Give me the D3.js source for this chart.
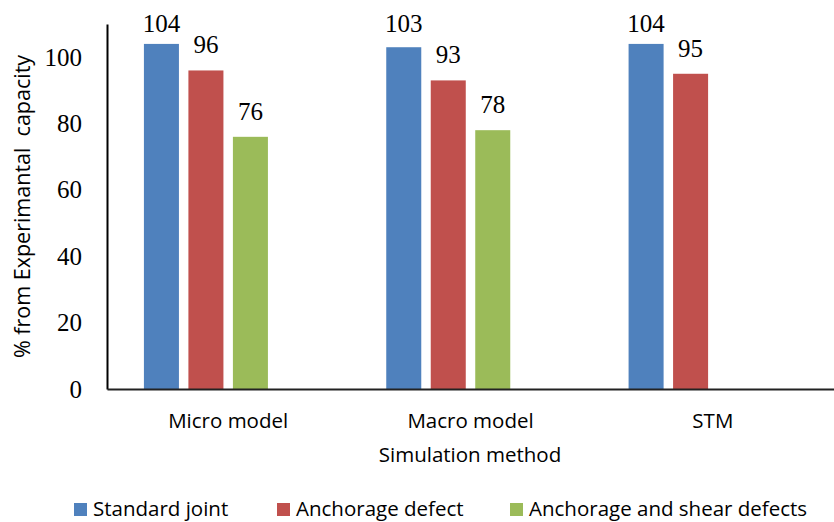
<!DOCTYPE html>
<html>
<head>
<meta charset="utf-8">
<script src="https://cdn.jsdelivr.net/npm/d3@7"></script>
<style>
  html, body { margin: 0; padding: 0; background: #fff; }
  svg { display: block; }
</style>
</head>
<body>
<svg id="chart" width="834" height="522"></svg>
<script>
// Simulation methods on the x axis
const categories = ["Micro model", "Macro model", "STM"];
// Joint conditions (one bar per condition inside each method)
const seriesNames = ["Standard joint", "Anchorage defect", "Anchorage and shear defects"];
const seriesColors = ["#4F81BD", "#C0504D", "#9BBB59"];
// Predicted capacity as % of the experimental capacity (null = not simulated)
const standardJoint = [104, 103, 104];
const anchorageDefect = [96, 93, 95];
const anchorageShear = [76, 78, null];
const yTicks = [0, 20, 40, 60, 80, 100];

const seriesValues = [standardJoint, anchorageDefect, anchorageShear];

const svg = d3.select("#chart");
const W = 834, H = 522;
const margin = { top: 24, right: 0, bottom: 133, left: 107 };
const plotW = W - margin.left - margin.right;
const plotH = H - margin.top - margin.bottom;

const serif = "'Liberation Serif', 'Times New Roman', serif";
const sans = "'Open Sans', 'Noto Sans', sans-serif";
const sansSize = 20.5;
const serifSize = 25;

const x = d3.scaleBand().domain(categories).range([0, plotW]).paddingInner(0).paddingOuter(0);
// four slots per group; the last one is left empty
const groupW = 168.5;
const xs = d3.scaleBand().domain([0, 1, 2, 3]).range([0, groupW]).paddingInner(0.213).paddingOuter(0);
const y = d3.scaleLinear().domain([0, 110]).range([plotH, 0]);

const g = svg.append("g").attr("transform", `translate(${margin.left},${margin.top})`);

// bars
const bars = [];
seriesValues.forEach((vals, si) => {
  vals.forEach((v, ci) => {
    if (v == null) return;
    bars.push({ si, ci, v });
  });
});

const groupStart = c => x(c) + x.bandwidth() / 2 - groupW / 2;

g.selectAll("rect.bar").data(bars).join("rect")
  .attr("class", "bar")
  .attr("x", d => groupStart(categories[d.ci]) + xs(d.si))
  .attr("y", d => y(d.v))
  .attr("width", xs.bandwidth())
  .attr("height", d => plotH - y(d.v))
  .attr("fill", d => seriesColors[d.si]);

// value labels (kept below the top edge of the chart)
g.selectAll("text.val").data(bars).join("text")
  .attr("class", "val")
  .attr("x", d => groupStart(categories[d.ci]) + xs(d.si) + xs.bandwidth() / 2)
  .attr("y", d => Math.max(y(d.v) - 17, 8))
  .attr("text-anchor", "middle")
  .attr("font-family", serif)
  .attr("font-size", serifSize)
  .attr("fill", "#000")
  .text(d => d.v);

// y axis
const yAxis = g.append("g").call(d3.axisLeft(y).tickValues(yTicks).tickSize(0).tickPadding(25));
yAxis.select(".domain").attr("stroke", "#000").attr("stroke-width", 2);
yAxis.selectAll("text").attr("font-family", serif).attr("font-size", serifSize).attr("fill", "#000");

// x axis
const xAxis = g.append("g").attr("transform", `translate(0,${plotH})`)
  .call(d3.axisBottom(x).tickSize(0).tickPadding(24));
xAxis.select(".domain").attr("stroke", "#222").attr("stroke-width", 2);
xAxis.selectAll("text").attr("font-family", sans).attr("font-size", sansSize).attr("fill", "#000");

// axis titles
svg.append("text")
  .attr("transform", `translate(30,${margin.top + plotH / 2}) rotate(-90)`)
  .attr("text-anchor", "middle")
  .attr("font-family", sans).attr("font-size", 21.5).attr("fill", "#000")
  .attr("xml:space", "preserve")
  .text("% from Experimantal  capacity");

svg.append("text")
  .attr("x", 470).attr("y", 462)
  .attr("text-anchor", "middle")
  .attr("font-family", sans).attr("font-size", sansSize).attr("fill", "#000")
  .text("Simulation method");

// legend
const legendX = [74, 277, 510];
const legend = svg.append("g").selectAll("g").data(seriesNames).join("g")
  .attr("transform", (d, i) => `translate(${legendX[i]},503)`);
legend.append("rect").attr("width", 13).attr("height", 13).attr("fill", (d, i) => seriesColors[i]);
legend.append("text").attr("x", 19).attr("y", 12.5)
  .attr("font-family", sans).attr("font-size", sansSize).attr("fill", "#000")
  .text(d => d);
</script>
</body>
</html>
